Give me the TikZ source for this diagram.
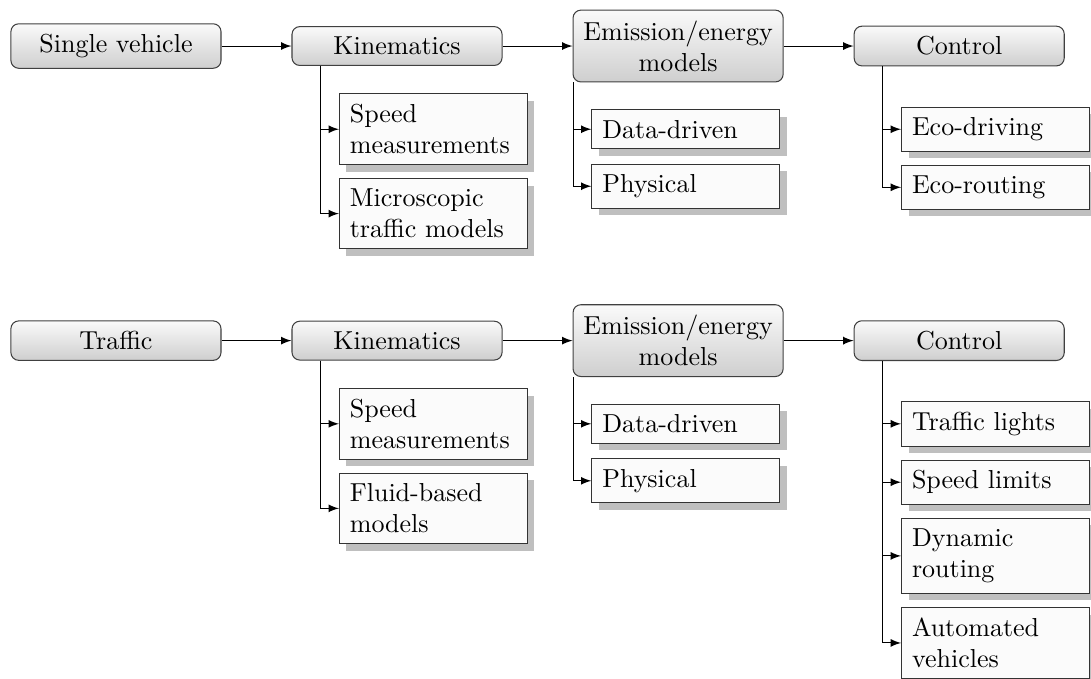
\documentclass[tikz,border=0pt]{standalone}
\usetikzlibrary{positioning,shadows}

\begin{document}
\begin{tikzpicture}[-,>=latex,node distance=108.1pt,thin,
  main box/.style={draw=black!75,rounded corners=3pt,top color=gray!4,bottom color=gray!38,minimum width=80.8pt,inner sep=4pt,align=center},
  sub box/.style={draw=black!80,fill=gray!3,text width=64.3pt,inner sep=4pt,align=left,drop shadow={shadow xshift=2.7pt,shadow yshift=-2.7pt,fill=black!25,opacity=1}}]

            \useasboundingbox (0,0) rectangle (419.6pt,-260.8pt);

            % single vehicle
            \node[main box] (sv) at (44.6pt,-17.7pt) {Single vehicle};
            \node[main box] (kin1) [right of = sv]{Kinematics};
            \node[main box] (emi1) [right of = kin1]{Emission/energy\\models};
            \node[main box] (ctl1) [right of = emi1]{Control};

            \node[sub box] (kin1a) [node distance=32pt, below of = kin1, xshift=14pt]{Speed\\measurements};
            \node[sub box] (kin1b) [below=5pt of kin1a]{Microscopic\\traffic models};
            \node[sub box] (emi1a) [node distance=32pt, below of = emi1, xshift=3pt]{Data-driven};
            \node[sub box] (emi1b) [below=5.5pt of emi1a]{Physical};
            \node[sub box] (ctl1a) [node distance=32pt, below of = ctl1, xshift=14pt]{Eco-driving};
            \node[sub box] (ctl1b) [below=5pt of ctl1a]{Eco-routing};

            % traffic
            \node[main box] (tr) [node distance=113.3pt, below of = sv]{Traffic};
            \node[main box] (kin2) [right of = tr]{Kinematics};
            \node[main box] (emi2) [right of = kin2]{Emission/energy\\models};
            \node[main box] (ctl2) [right of = emi2]{Control};

            \node[sub box] (kin2a) [node distance=32pt, below of = kin2, xshift=14pt]{Speed\\measurements};
            \node[sub box] (kin2b) [below=5pt of kin2a]{Fluid-based\\models};
            \node[sub box] (emi2a) [node distance=32pt, below of = emi2, xshift=3pt]{Data-driven};
            \node[sub box] (emi2b) [below=5.5pt of emi2a]{Physical};
            \node[sub box] (ctl2a) [node distance=32pt, below of = ctl2, xshift=14pt]{Traffic lights};
            \node[sub box] (ctl2b) [below=5pt of ctl2a]{Speed limits};
            \node[sub box] (ctl2c) [below=5pt of ctl2b]{Dynamic\\routing};
            \node[sub box] (ctl2d) [below=5pt of ctl2c]{Automated\\vehicles};

            \draw[->] (sv) to (kin1);
            \draw[->] (kin1) to (emi1);
            \draw[->] (emi1) to (ctl1);
            \draw[->] (tr) to (kin2);
            \draw[->] (kin2) to (emi2);
            \draw[->] (emi2) to (ctl2);

            \draw[->] (kin1.south -| kin1a.west) ++(-7pt,0) |- (kin1a.west);
            \draw[->] (kin1.south -| kin1a.west) ++(-7pt,0) |- (kin1b.west);
            \draw[->] (emi1.south -| emi1a.west) ++(-7pt,0) |- (emi1a.west);
            \draw[->] (emi1.south -| emi1a.west) ++(-7pt,0) |- (emi1b.west);
            \draw[->] (ctl1.south -| ctl1a.west) ++(-7pt,0) |- (ctl1a.west);
            \draw[->] (ctl1.south -| ctl1a.west) ++(-7pt,0) |- (ctl1b.west);

            \draw[->] (kin2.south -| kin2a.west) ++(-7pt,0) |- (kin2a.west);
            \draw[->] (kin2.south -| kin2a.west) ++(-7pt,0) |- (kin2b.west);
            \draw[->] (emi2.south -| emi2a.west) ++(-7pt,0) |- (emi2a.west);
            \draw[->] (emi2.south -| emi2a.west) ++(-7pt,0) |- (emi2b.west);
            \draw[->] (ctl2.south -| ctl2a.west) ++(-7pt,0) |- (ctl2a.west);
            \draw[->] (ctl2.south -| ctl2a.west) ++(-7pt,0) |- (ctl2b.west);
            \draw[->] (ctl2.south -| ctl2a.west) ++(-7pt,0) |- (ctl2c.west);
            \draw[->] (ctl2.south -| ctl2a.west) ++(-7pt,0) |- (ctl2d.west);
        \end{tikzpicture}
\end{document}
